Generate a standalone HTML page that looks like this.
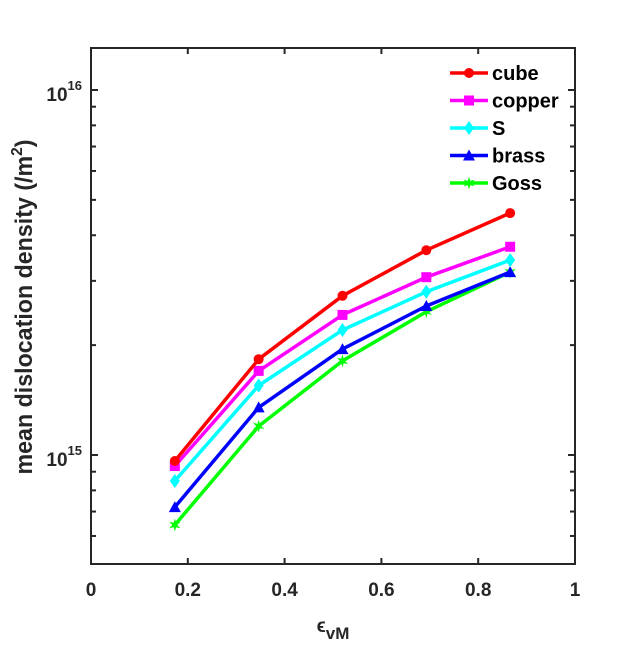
<!DOCTYPE html>
<html><head><meta charset="utf-8"><style>
body{margin:0;background:#fff;}
svg text{font-family:"Liberation Sans",Arial,sans-serif;font-weight:bold;fill:#262626;}
</style></head><body>
<svg id="chart" width="638" height="642" viewBox="0 0 638 642" xmlns="http://www.w3.org/2000/svg">
<rect width="638" height="642" fill="#fff"/>
<g id="grid"></g>
<g id="series"></g>
<g id="axes"></g>
<g id="legend"></g>
</svg>
<script>
const xValues = [0.1732, 0.3464, 0.5196, 0.6928, 0.866];
const cube = [0.963e15, 1.83e15, 2.73e15, 3.64e15, 4.60e15];
const copper = [0.933e15, 1.70e15, 2.42e15, 3.07e15, 3.72e15];
const sTex = [0.849e15, 1.55e15, 2.20e15, 2.80e15, 3.42e15];
const brass = [0.720e15, 1.35e15, 1.95e15, 2.56e15, 3.17e15];
const goss = [0.643e15, 1.20e15, 1.81e15, 2.47e15, 3.17e15];
const seriesNames = ["cube", "copper", "S", "brass", "Goss"];
const xTicks = [0, 0.2, 0.4, 0.6, 0.8, 1];
const xTickLabels = ["0", "0.2", "0.4", "0.6", "0.8", "1"];

const NS = "http://www.w3.org/2000/svg";
const L = 91, R = 575, T = 48, B = 564;
const x = v => L + v * (R - L);
const y = v => 455 - (Math.log10(v) - 15) * 365;
function el(tag, attrs, parent) {
  const e = document.createElementNS(NS, tag);
  for (const k in attrs) e.setAttribute(k, attrs[k]);
  parent.appendChild(e);
  return e;
}
const axes = document.getElementById("axes");
const ser = document.getElementById("series");
const leg = document.getElementById("legend");
const ac = "#262626";

const box = el("rect", {x: L, y: T, width: R - L, height: B - T, fill: "none", stroke: ac, "stroke-width": 2}, axes);



xTicks.forEach((t, i) => {
  const px = x(t);
  el("line", {x1: px, y1: B, x2: px, y2: B - 6, stroke: ac, "stroke-width": 2}, axes);
  el("line", {x1: px, y1: T, x2: px, y2: T + 6, stroke: ac, "stroke-width": 2}, axes);
  const tx = el("text", {x: px, y: B + 32, "text-anchor": "middle", "font-size": 19}, axes);
  tx.textContent = xTickLabels[i];
  
  
});
for (let e = 14; e <= 16; e++) {
  for (let m = 1; m <= 9; m++) {
    const v = m * Math.pow(10, e);
    const py = y(v);
    if (py < T - 0.5 || py > B + 0.5) continue;
    const len = m === 1 ? 7 : 5;
    el("line", {x1: L, y1: py, x2: L + len, y2: py, stroke: ac, "stroke-width": 2}, axes);
    el("line", {x1: R, y1: py, x2: R - len, y2: py, stroke: ac, "stroke-width": 2}, axes);
    if (m === 1) {
      const tx = el("text", {x: L - 9, y: py + 11, "text-anchor": "end", "font-size": 19}, axes);
      
      
      tx.appendChild(document.createTextNode("10"));
      const sup = el("tspan", {dy: -11, "font-size": 13}, tx);
      sup.textContent = String(e);
    }
  }
}
const xt = el("text", {x: 333, y: 632, "text-anchor": "middle", "font-size": 19}, axes);


xt.appendChild(document.createTextNode("\u03F5"));
const sub = el("tspan", {dy: 7, "font-size": 17}, xt);
sub.textContent = "vM";
const yt = el("text", {x: 0, y: 0, "text-anchor": "middle", "font-size": 24, textLength: 335, lengthAdjust: "spacingAndGlyphs", transform: "translate(32,307) rotate(-90)"}, axes);


yt.appendChild(document.createTextNode("mean dislocation density (/m"));
const s2 = el("tspan", {dy: -10, "font-size": 16}, yt); s2.textContent = "2";
const s3 = el("tspan", {dy: 10}, yt); s3.textContent = ")";

function marker(g, type, cx, cy, color) {
  if (type === "circle") return el("circle", {cx, cy, r: 5, fill: color}, g);
  if (type === "square") return el("rect", {x: cx - 5, y: cy - 5, width: 10, height: 10, fill: color}, g);
  if (type === "diamond") return el("polygon", {points: `${cx},${cy-7} ${cx+5},${cy} ${cx},${cy+7} ${cx-5},${cy}`, fill: color}, g);
  if (type === "triangle") return el("polygon", {points: `${cx},${cy-6} ${cx+6},${cy+5} ${cx-6},${cy+5}`, fill: color}, g);
  const p = [];
  for (let i = 0; i < 12; i++) {
    const a = -Math.PI / 2 + i * Math.PI / 6, r = i % 2 ? 2.5 : 6.5;
    p.push((cx + r * Math.cos(a)).toFixed(1) + "," + (cy + r * Math.sin(a)).toFixed(1));
  }
  return el("polygon", {points: p.join(" "), fill: color}, g);
}
const data = [cube, copper, sTex, brass, goss];
const colors = ["#ff0000", "#ff00ff", "#00ffff", "#0000ff", "#00ff00"];
const markers = ["circle", "square", "diamond", "triangle", "star"];
for (let s = data.length - 1; s >= 0; s--) {
  const g = el("g", {}, ser);
  
  
  const pts = data[s].map((v, i) => x(xValues[i]).toFixed(1) + "," + y(v).toFixed(1)).join(" ");
  el("polyline", {points: pts, fill: "none", stroke: colors[s], "stroke-width": 3.5, "stroke-linejoin": "round"}, g);
  data[s].forEach((v, i) => marker(g, markers[s], x(xValues[i]), y(v), colors[s]));
}
seriesNames.forEach((n, i) => {
  const g = el("g", {}, leg);
  
  
  const ly = 73 + i * 27.5;
  el("line", {x1: 450, y1: ly, x2: 488, y2: ly, stroke: colors[i], "stroke-width": 3.5}, g);
  marker(g, markers[i], 469, ly, colors[i]);
  const t = el("text", {x: 492, y: ly + 7, "font-size": 20}, g);
  t.textContent = n;
  t.style.fill = "#000";
});
</script>
</body></html>
